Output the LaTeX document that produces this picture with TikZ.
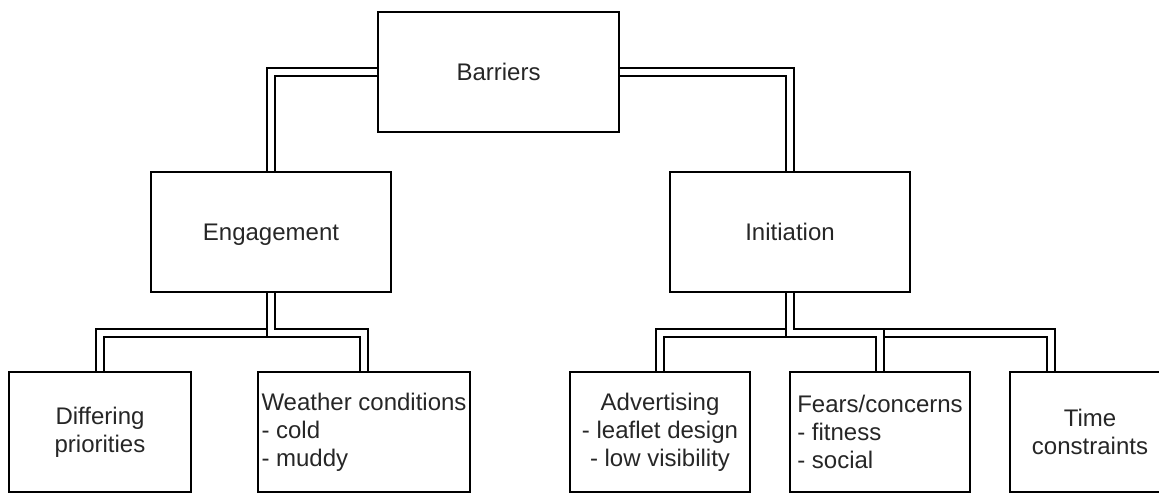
\documentclass[tikz,border=0pt]{standalone}
\usepackage{fontspec}
\setmainfont{Liberation Sans}

\begin{document}
\begin{tikzpicture}[x=0.5pt,y=-0.5pt,
    box/.style={draw, line width=0.75pt, minimum height=60pt, inner sep=0pt,
        text=black!85, font=\fontsize{12}{14}\selectfont},
    oneline/.style={box, text height=8.6pt, text depth=0pt},
    link/.style={draw, line width=0.75pt, double=white, double distance=3.25pt}]

% Frame of the picture
\useasboundingbox (0,0) rectangle (1159,493);

% Top level
\node[oneline, minimum width=120.5pt] (barriers) at (498.5,72) {Barriers};

% Second level
\node[oneline, minimum width=120pt] (engagement) at (271,232) {Engagement};
\node[oneline, minimum width=120pt] (initiation) at (790,232) {Initiation};

% Third level
\node[box, minimum width=91pt, align=center] (differing) at (100,432) {Differing\\priorities};
\node[box, minimum width=106pt, align=left] (weather) at (364,432) {Weather conditions\\- cold\\- muddy};
\node[box, minimum width=90pt, align=center] (advertising) at (660,432) {Advertising\\- leaflet design\\- low visibility};
\node[box, minimum width=90pt, align=left] (fears) at (880,432) {Fears/concerns\\- fitness\\- social};
\node[box, minimum width=80pt, align=center] (time) at (1090,432) {Time\\constraints};

% Links from the top box
\path[link] (barriers.west) -| (engagement.north);
\path[link] (barriers.east) -| (initiation.north);

% Links below Engagement
\path[link] (engagement.south) -- ++(0,40) -| (differing.north);
\path[link] (engagement.south) -- ++(0,40) -| (weather.north);

% Links below Initiation
\path[link] (initiation.south) -- ++(0,40) -| (advertising.north);
\path[link] (initiation.south) -- ++(0,40) -| ([xshift=-19.5pt]time.north);
\path[link] (initiation.south) -- ++(0,40) -| (fears.north);

\end{tikzpicture}
\end{document}
